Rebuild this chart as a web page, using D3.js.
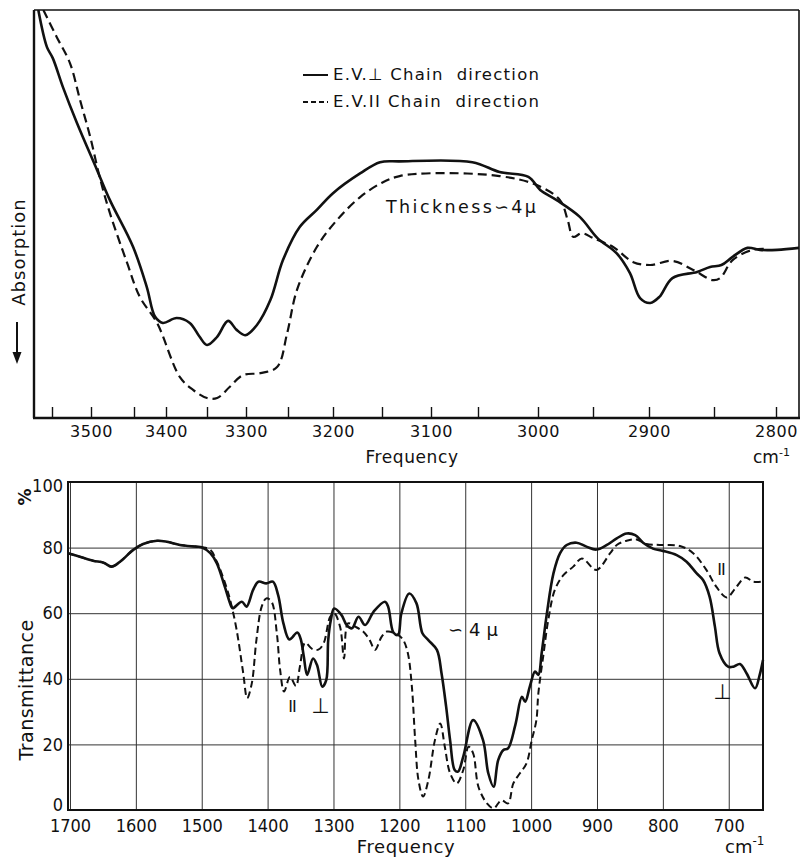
<!DOCTYPE html>
<html>
<head>
<meta charset="utf-8">
<script src="https://cdn.jsdelivr.net/npm/d3@7"></script>
<style>
  html, body { margin: 0; padding: 0; background: #fff; }
  svg { display: block; }
  text { fill: #111; }
</style>
</head>
<body>
<svg id="chart" width="801" height="862"></svg>
<script>
// ---------- Stretching region (3600–2780 cm-1), relative scale, absorption downward ----------
const stretchMajorTicks = [3500, 3400, 3300, 3200, 3100, 3000, 2900, 2800];
const stretchMinorTicks = [3550, 3450, 3350, 3250, 3150, 3050, 2950, 2850];

// E.V. perpendicular to chain direction
const stretchPerp = [
  [3569, 100], [3557, 90.9], [3549, 88.2], [3536, 81.1], [3518, 72.3], [3493, 60.8],
  [3478, 53.4], [3451, 41.9], [3430, 32.1], [3417, 24.8], [3405, 23.3], [3387, 24.5],
  [3371, 23.3], [3359, 19.9], [3350, 17.9], [3337, 19.9], [3323, 23.8], [3312, 21.6],
  [3301, 20.3], [3287, 22.8], [3271, 28.9], [3256, 38.7], [3237, 46.8], [3218, 51.0],
  [3200, 55.1], [3172, 60.0], [3152, 62.7], [3132, 62.9], [3056, 62.7], [3032, 60.3],
  [3008, 59.1], [2998, 55.9], [2983, 53.4], [2962, 49.3], [2946, 44.1], [2929, 40.4],
  [2917, 35.5], [2908, 29.4], [2899, 28.2], [2892, 29.7], [2882, 34.3], [2863, 35.8],
  [2853, 37.0], [2844, 37.5], [2835, 39.5], [2823, 41.7], [2813, 41.2], [2799, 41.2],
  [2782, 41.7]
];

// E.V. parallel to chain direction
const stretchPar = [
  [3562, 100], [3544, 93.4], [3527, 87.0], [3514, 77.9], [3501, 68.9], [3490, 59.1],
  [3478, 50.2], [3458, 38.0], [3441, 29.7], [3414, 23.3], [3383, 10.0], [3367, 6.9],
  [3350, 4.9], [3337, 4.9], [3321, 7.6], [3304, 10.5], [3283, 11.0], [3263, 12.5],
  [3251, 20.8], [3240, 31.4], [3218, 41.9], [3196, 48.5], [3172, 54.2], [3149, 57.8],
  [3132, 59.3], [3098, 60.0], [3032, 59.3], [3001, 57.1], [2980, 53.4], [2973, 48.5],
  [2968, 44.4], [2960, 45.3], [2950, 44.1], [2932, 41.9], [2914, 38.2], [2899, 37.5],
  [2882, 38.5], [2866, 36.3], [2851, 33.8], [2845, 34.3], [2835, 38.7], [2819, 41.2],
  [2807, 41.4]
];

// ---------- Fingerprint region (1700–650 cm-1), transmittance % ----------
const fpFreqTicks = [1700, 1600, 1500, 1400, 1300, 1200, 1100, 1000, 900, 800, 700];
const fpPctTicks = [0, 20, 40, 60, 80, 100];

const fpCommon = [
  [1703, 78.3], [1685, 77.2], [1665, 76.0], [1649, 75.4], [1637, 74.2], [1624, 75.7],
  [1604, 79.3], [1589, 81.1], [1568, 82.1], [1553, 81.8], [1533, 80.8], [1508, 80.3],
  [1500, 80.1]
];

const fpPerp = fpCommon.concat([
  [1487, 78.3], [1477, 75.2], [1465, 68.1], [1455, 62.0], [1453, 61.5], [1439, 63.5],
  [1432, 62.0], [1422, 67.1], [1414, 69.6], [1402, 69.1], [1392, 69.6], [1384, 65.5],
  [1376, 56.9], [1367, 52.0], [1355, 54.1], [1350, 52.3], [1345, 46.7], [1340, 41.2],
  [1331, 46.2], [1325, 44.2], [1317, 37.6], [1311, 39.6], [1308, 51.8], [1304, 57.9],
  [1299, 61.4], [1288, 59.5], [1280, 56.4], [1272, 55.4], [1262, 58.9], [1252, 56.4],
  [1239, 60.5], [1222, 63.5], [1217, 62.0], [1209, 54.1], [1202, 53.4], [1197, 59.9],
  [1185, 66.0], [1174, 63.0], [1165, 53.9], [1156, 51.8], [1143, 48.8], [1136, 41.7],
  [1129, 31.5], [1123, 21.3], [1116, 12.2], [1111, 11.7], [1103, 16.3], [1088, 27.4],
  [1073, 21.3], [1065, 11.2], [1057, 7.1], [1050, 15.2], [1042, 18.3], [1035, 18.8],
  [1024, 25.9], [1014, 34.5], [1009, 33.0], [1002, 37.6], [994, 42.2], [989, 41.2],
  [984, 47.8], [976, 60.0], [966, 72.2], [956, 78.3], [946, 80.8], [931, 81.5],
  [916, 80.3], [901, 79.4], [885, 80.8], [870, 82.8], [855, 84.3], [842, 83.8],
  [830, 81.5], [815, 79.7], [800, 79.0], [779, 77.7], [764, 75.7], [749, 72.2],
  [739, 70.1], [729, 65.0], [721, 55.9], [714, 47.8], [701, 43.7], [693, 43.7],
  [683, 44.5], [673, 41.7], [660, 37.1], [653, 41.2], [648, 45.7]
]);

const fpPar = fpCommon.concat([
  [1487, 79.3], [1477, 75.7], [1462, 67.6], [1455, 62.5], [1447, 54.9], [1437, 41.7],
  [1431, 34.1], [1424, 38.6], [1417, 51.8], [1409, 62.0], [1402, 64.5], [1394, 63.5],
  [1386, 53.9], [1381, 42.7], [1375, 36.1], [1366, 40.6], [1357, 37.8], [1351, 43.7],
  [1343, 51.0], [1333, 49.2], [1323, 48.9], [1315, 50.8], [1305, 58.9], [1299, 60.0],
  [1290, 55.9], [1284, 46.2], [1278, 56.9], [1267, 55.9], [1255, 54.4], [1245, 51.8],
  [1237, 48.8], [1227, 52.8], [1219, 54.4], [1202, 53.4], [1194, 51.8], [1187, 47.7],
  [1181, 37.6], [1176, 21.3], [1171, 9.1], [1164, 4.1], [1156, 9.1], [1146, 21.3],
  [1138, 26.4], [1131, 19.3], [1123, 11.2], [1113, 8.1], [1103, 12.2], [1095, 19.3],
  [1088, 17.3], [1080, 7.1], [1067, 2.0], [1057, 0.5], [1045, 3.0], [1035, 2.0],
  [1027, 8.1], [1017, 11.2], [1007, 14.2], [999, 21.3], [992, 27.4], [989, 35.6],
  [981, 47.8], [974, 57.9], [964, 67.1], [951, 71.6], [936, 74.2], [923, 76.7],
  [901, 73.2], [880, 78.3], [870, 80.8], [855, 82.1], [840, 82.5], [825, 81.1],
  [805, 80.8], [774, 80.5], [754, 78.3], [734, 73.2], [719, 68.1], [703, 64.8],
  [690, 67.6], [675, 70.9], [663, 69.6], [650, 69.6]
]);

// ---------- Layout ----------
const svg = d3.select("#chart");
const FONT = "'DejaVu Sans', 'Noto Sans', sans-serif";
const FONT_NARROW = "'DejaVu Sans Condensed', 'DejaVu Sans', sans-serif";

const upperBox = { left: 34, right: 799, top: 10, bottom: 418 };
const lowerBox = { left: 68, right: 763, top: 482, bottom: 810 };

// The recording chart's frequency axis is not linear: knots taken from its ruling
const stretchKnots = [3575, 3550, 3500, 3450, 3400, 3350, 3300, 3250, 3200, 3150, 3100, 3050, 3000, 2950, 2900, 2850, 2800, 2782];
const stretchKnotPx = [0, 18, 57, 100, 132, 173, 212, 254, 299, 348, 397, 444, 504, 559, 615, 680, 742, 765];

const xTop = d3.scaleLinear().domain(stretchKnots).range(stretchKnotPx.map(p => upperBox.left + p));
const yTop = d3.scaleLinear().domain([0, 100]).range([upperBox.bottom, upperBox.top]);

const xBot = d3.scaleLinear().domain([1703, 648]).range([lowerBox.left, lowerBox.right]);
const yBot = d3.scaleLinear().domain([0, 100]).range([lowerBox.bottom, lowerBox.top]);

const smooth = d3.curveCatmullRom.alpha(0.5);

// ---------- Upper panel ----------
const gTop = svg.append("g");
gTop.append("defs").append("clipPath").attr("id", "clipTop")
  .append("rect").attr("x", upperBox.left).attr("y", upperBox.top)
  .attr("width", upperBox.right - upperBox.left).attr("height", upperBox.bottom - upperBox.top);

const lineTop = d3.line().x(d => xTop(d[0])).y(d => yTop(d[1])).curve(smooth);

gTop.append("path").datum(stretchPar).attr("d", lineTop)
  .attr("fill", "none").attr("stroke", "#111").attr("stroke-width", 2.2)
  .attr("stroke-dasharray", "9,5").attr("clip-path", "url(#clipTop)");
gTop.append("path").datum(stretchPerp).attr("d", lineTop)
  .attr("fill", "none").attr("stroke", "#111").attr("stroke-width", 2.6)
  .attr("clip-path", "url(#clipTop)");

// frame
gTop.append("line").attr("x1", upperBox.left).attr("x2", upperBox.right)
  .attr("y1", upperBox.top).attr("y2", upperBox.top)
  .attr("stroke", "#111").attr("stroke-width", 1.6);
gTop.append("line").attr("x1", upperBox.right).attr("x2", upperBox.right)
  .attr("y1", upperBox.top).attr("y2", upperBox.bottom)
  .attr("stroke", "#111").attr("stroke-width", 1.6);
gTop.append("line").attr("x1", upperBox.left).attr("x2", upperBox.left)
  .attr("y1", upperBox.top).attr("y2", upperBox.bottom)
  .attr("stroke", "#111").attr("stroke-width", 2.4);

const axTop = d3.axisBottom(xTop)
  .tickValues(stretchMajorTicks.concat(stretchMinorTicks))
  .tickSizeInner(-11).tickSizeOuter(0).tickPadding(8)
  .tickFormat(d => stretchMajorTicks.includes(d) ? String(d) : "");
const gAxTop = gTop.append("g").attr("transform", `translate(0,${upperBox.bottom})`).call(axTop);
gAxTop.select(".domain").remove();
gAxTop.selectAll(".tick line").attr("stroke", "#111").attr("stroke-width", 1.4);
gAxTop.selectAll(".tick text").attr("font-family", FONT).attr("font-size", 16)
  .attr("letter-spacing", 0.6).attr("fill", "#111");
gTop.append("line").attr("x1", upperBox.left - 1).attr("x2", upperBox.right + 1)
  .attr("y1", upperBox.bottom).attr("y2", upperBox.bottom)
  .attr("stroke", "#111").attr("stroke-width", 2.6);

gTop.append("text").attr("x", 412).attr("y", 463).attr("text-anchor", "middle")
  .attr("font-family", FONT).attr("font-size", 17).attr("letter-spacing", 0.6).text("Frequency");
const cmTop = gTop.append("text").attr("x", 753).attr("y", 463)
  .attr("font-family", FONT).attr("font-size", 17);
cmTop.append("tspan").text("cm");
cmTop.append("tspan").attr("dy", -7).attr("font-size", 11).text("-1");

// y label with arrow
gTop.append("text").attr("transform", "translate(25,252) rotate(-90)")
  .attr("text-anchor", "middle").attr("font-family", FONT).attr("font-size", 18)
  .attr("letter-spacing", 1).text("Absorption");
gTop.append("line").attr("x1", 17).attr("x2", 17).attr("y1", 322).attr("y2", 356)
  .attr("stroke", "#111").attr("stroke-width", 2);
gTop.append("path").attr("d", "M12.5,352 L21.5,352 L17,364 Z").attr("fill", "#111");

// legend
const legend = [
  { label: "E.V.⊥ Chain  direction", dash: null, y: 80 },
  { label: "E.V.II Chain  direction", dash: "5,3", y: 107 }
];
legend.forEach(l => {
  gTop.append("line").attr("x1", 303).attr("x2", 328).attr("y1", l.y - 5).attr("y2", l.y - 5)
    .attr("stroke", "#111").attr("stroke-width", 2).attr("stroke-dasharray", l.dash);
  gTop.append("text").attr("x", 333).attr("y", l.y).attr("font-family", FONT)
    .attr("font-size", 16.5).style("white-space", "pre")
    .attr("textLength", 206).attr("lengthAdjust", "spacing")
    .text(l.label);
});

gTop.append("text").attr("x", 386).attr("y", 213).attr("font-family", FONT)
  .attr("font-size", 17.5).attr("textLength", 150).attr("lengthAdjust", "spacing")
  .text("Thickness∽4μ");

// ---------- Lower panel ----------
const gBot = svg.append("g");

const gx = gBot.append("g").attr("transform", `translate(0,${lowerBox.bottom})`)
  .call(d3.axisBottom(xBot).tickValues(fpFreqTicks).tickFormat(d3.format("d"))
    .tickSizeInner(-(lowerBox.bottom - lowerBox.top)).tickSizeOuter(0).tickPadding(9));
gx.select(".domain").remove();
gx.selectAll(".tick line").attr("stroke", "#333").attr("stroke-width", 1);
gx.selectAll(".tick text").attr("font-family", FONT_NARROW).attr("font-stretch", "condensed")
  .attr("font-size", 18).attr("fill", "#111");

const gy = gBot.append("g").attr("transform", `translate(${lowerBox.left},0)`)
  .call(d3.axisLeft(yBot).tickValues(fpPctTicks).tickFormat(d3.format("d"))
    .tickSizeInner(-(lowerBox.right - lowerBox.left)).tickSizeOuter(0).tickPadding(5));
gy.select(".domain").remove();
gy.selectAll(".tick line").attr("stroke", "#333").attr("stroke-width", 1);
gy.selectAll(".tick text").attr("font-family", FONT_NARROW).attr("font-stretch", "condensed")
  .attr("font-size", 18).attr("fill", "#111")
  .attr("dy", d => d === 0 ? "0.05em" : d === 100 ? "0.5em" : "0.32em");

const lineBot = d3.line().x(d => xBot(d[0])).y(d => yBot(d[1])).curve(smooth);
gBot.append("path").datum(fpPar).attr("d", lineBot)
  .attr("fill", "none").attr("stroke", "#111").attr("stroke-width", 2)
  .attr("stroke-dasharray", "7,4");
gBot.append("path").datum(fpPerp).attr("d", lineBot)
  .attr("fill", "none").attr("stroke", "#111").attr("stroke-width", 2.6);

gBot.append("rect").attr("x", lowerBox.left).attr("y", lowerBox.top)
  .attr("width", lowerBox.right - lowerBox.left).attr("height", lowerBox.bottom - lowerBox.top)
  .attr("fill", "none").attr("stroke", "#111").attr("stroke-width", 2);

gBot.append("text").attr("x", 406).attr("y", 853).attr("text-anchor", "middle")
  .attr("font-family", FONT).attr("font-size", 18).attr("letter-spacing", 0.6).text("Frequency");
const cmBot = gBot.append("text").attr("x", 725).attr("y", 853)
  .attr("font-family", FONT).attr("font-size", 18);
cmBot.append("tspan").text("cm");
cmBot.append("tspan").attr("dy", -8).attr("font-size", 12).text("-1");

gBot.append("text").attr("transform", "translate(33,690) rotate(-90)")
  .attr("text-anchor", "middle").attr("font-family", FONT).attr("font-size", 19)
  .attr("letter-spacing", 0.5).text("Transmittance");
gBot.append("text").attr("transform", "translate(31,497) rotate(-90)")
  .attr("text-anchor", "middle").attr("font-family", FONT).attr("font-size", 17)
  .attr("font-weight", "bold").text("%");

// band labels
const bandLabels = [
  { t: "II", x: 292, y: 712, size: 16 },
  { t: "⊥", x: 320, y: 713, size: 21 },
  { t: "II", x: 721, y: 575, size: 16 },
  { t: "⊥", x: 722, y: 699, size: 21 }
];
bandLabels.forEach(b => {
  gBot.append("text").attr("x", b.x).attr("y", b.y).attr("text-anchor", "middle")
    .attr("font-family", FONT).attr("font-size", b.size).attr("letter-spacing", -1).text(b.t);
});
gBot.append("text").attr("x", 448).attr("y", 636).attr("font-family", FONT)
  .attr("font-size", 18).attr("textLength", 50).attr("lengthAdjust", "spacing").text("∽4μ");
</script>
</body>
</html>
